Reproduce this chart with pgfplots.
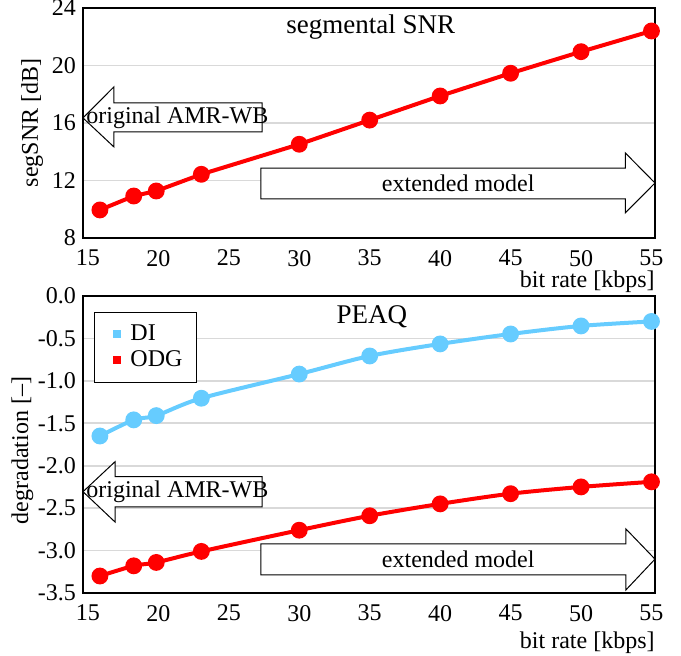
\documentclass[border=0pt]{standalone}
\usepackage{fontspec}
\setmainfont{Liberation Serif}
\usepackage{pgfplots}
\pgfplotsset{compat=1.18}

\definecolor{diblue}{RGB}{102,204,255}
\definecolor{gridgray}{RGB}{217,217,217}

\tikzset{arrowbox/.style={draw=black, fill=white, line width=0.5pt}}

\pgfplotsset{
  panel/.style={
    scale only axis,
    width=286pt,
    xmin=14.65, xmax=55.25,
    xtick={15,20,...,55},
    major tick length=0pt,
    axis line style={line width=0.7pt},
    ymajorgrids,
    grid style={gridgray, line width=0.8pt},
    clip=false,
    /pgf/number format/assume math mode=true,
    tick label style={font=\fontsize{12}{14}\selectfont},
    xticklabel style={yshift=-2.5pt},
    label style={font=\fontsize{12}{14}\selectfont},
    xlabel={bit rate [kbps]},
  },
  series/.style={line width=2pt, mark=*, mark size=3.2pt, mark options={solid}},
}

\begin{document}
\begin{tikzpicture}
\path[use as bounding box] (-41.5pt,-31.5pt) rectangle (299pt,296.5pt);

%--------------------------------------------------
% segmental SNR
%--------------------------------------------------
\begin{axis}[
    panel,
    at={(0,177.5pt)}, anchor=south west,
    height=115pt,
    ymin=8, ymax=24,
    ytick={8,12,16,20,24},
    ylabel={segSNR [dB]},
    ylabel style={at={(axis description cs:-0.089,0.5)}, anchor=center},
    xlabel style={at={(axis description cs:1,0)}, anchor=base east, yshift=-25pt, inner sep=0pt},
]
\draw[arrowbox] (rel axis cs:0,0.522) -- (rel axis cs:0.054,0.657) -- (rel axis cs:0.054,0.587)
  -- (rel axis cs:0.313,0.587) -- (rel axis cs:0.313,0.461) -- (rel axis cs:0.054,0.461)
  -- (rel axis cs:0.054,0.396) -- cycle;
\node[font=\fontsize{12}{14}\selectfont] at (rel axis cs:0.165,0.522) {original AMR-WB};
\draw[arrowbox] (rel axis cs:0.311,0.304) -- (rel axis cs:0.948,0.304) -- (rel axis cs:0.948,0.370)
  -- (rel axis cs:1,0.239) -- (rel axis cs:0.948,0.109) -- (rel axis cs:0.948,0.170)
  -- (rel axis cs:0.311,0.170) -- cycle;
\node[font=\fontsize{12}{14}\selectfont] at (rel axis cs:0.656,0.239) {extended model};
\node[anchor=base, font=\fontsize{13.5}{15}\selectfont] at (rel axis cs:0.503,0.89) {segmental SNR};

\addplot[series, red] coordinates {
    (15.85,9.95) (18.25,10.92) (19.85,11.27) (23.05,12.43) (30,14.52)
    (35,16.2) (40,17.88) (45,19.46) (50,20.96) (55,22.4)
};
\end{axis}

%--------------------------------------------------
% PEAQ
%--------------------------------------------------
\begin{axis}[
    panel,
    at={(0,0)}, anchor=south west,
    height=148.5pt,
    ymin=-3.5, ymax=0,
    ytick={-3.5,-3,...,0},
    yticklabel style={/pgf/number format/.cd, fixed, fixed zerofill, precision=1},
    ylabel={degradation [--]},
    ylabel style={at={(axis description cs:-0.106,0.48)}, anchor=center},
    xlabel style={at={(axis description cs:1,0)}, anchor=base east, yshift=-28pt, inner sep=0pt},
    legend cell align=left,
    legend image code/.code={
        \path[draw=none] (0pt,0pt) -- (16pt,0pt);
        \fill[draw=none] (9.5pt,-2pt) rectangle (13.5pt,2pt);
    },
    legend style={
        at={(rel axis cs:0.019,0.947)}, anchor=north west,
        draw=black, line width=0.6pt,
        inner xsep=0pt, inner ysep=5pt, row sep=1pt,
        font=\fontsize{12}{14}\selectfont,
        nodes={text width=31pt, inner ysep=0pt, text height=9pt, text depth=3pt},
    },
]
\draw[arrowbox] (rel axis cs:0,0.341) -- (rel axis cs:0.056,0.442) -- (rel axis cs:0.056,0.392)
  -- (rel axis cs:0.313,0.392) -- (rel axis cs:0.313,0.290) -- (rel axis cs:0.056,0.290)
  -- (rel axis cs:0.056,0.239) -- cycle;
\node[font=\fontsize{12}{14}\selectfont] at (rel axis cs:0.165,0.341) {original AMR-WB};
\draw[arrowbox] (rel axis cs:0.311,0.165) -- (rel axis cs:0.949,0.165) -- (rel axis cs:0.949,0.216)
  -- (rel axis cs:1,0.114) -- (rel axis cs:0.949,0.010) -- (rel axis cs:0.949,0.061)
  -- (rel axis cs:0.311,0.061) -- cycle;
\node[font=\fontsize{12}{14}\selectfont] at (rel axis cs:0.656,0.114) {extended model};
\node[anchor=base, font=\fontsize{13.5}{15}\selectfont] at (rel axis cs:0.505,0.909) {PEAQ};

\addplot[series, diblue, smooth] coordinates {
    (15.85,-1.65) (18.25,-1.46) (19.85,-1.41) (23.05,-1.205) (30,-0.92)
    (35,-0.707) (40,-0.565) (45,-0.448) (50,-0.353) (55,-0.30)
};
\addlegendentry{DI}
\addplot[series, red, smooth] coordinates {
    (15.85,-3.30) (18.25,-3.18) (19.85,-3.14) (23.05,-3.01) (30,-2.76)
    (35,-2.59) (40,-2.45) (45,-2.33) (50,-2.25) (55,-2.19)
};
\addlegendentry{ODG}
\end{axis}
\end{tikzpicture}
\end{document}
